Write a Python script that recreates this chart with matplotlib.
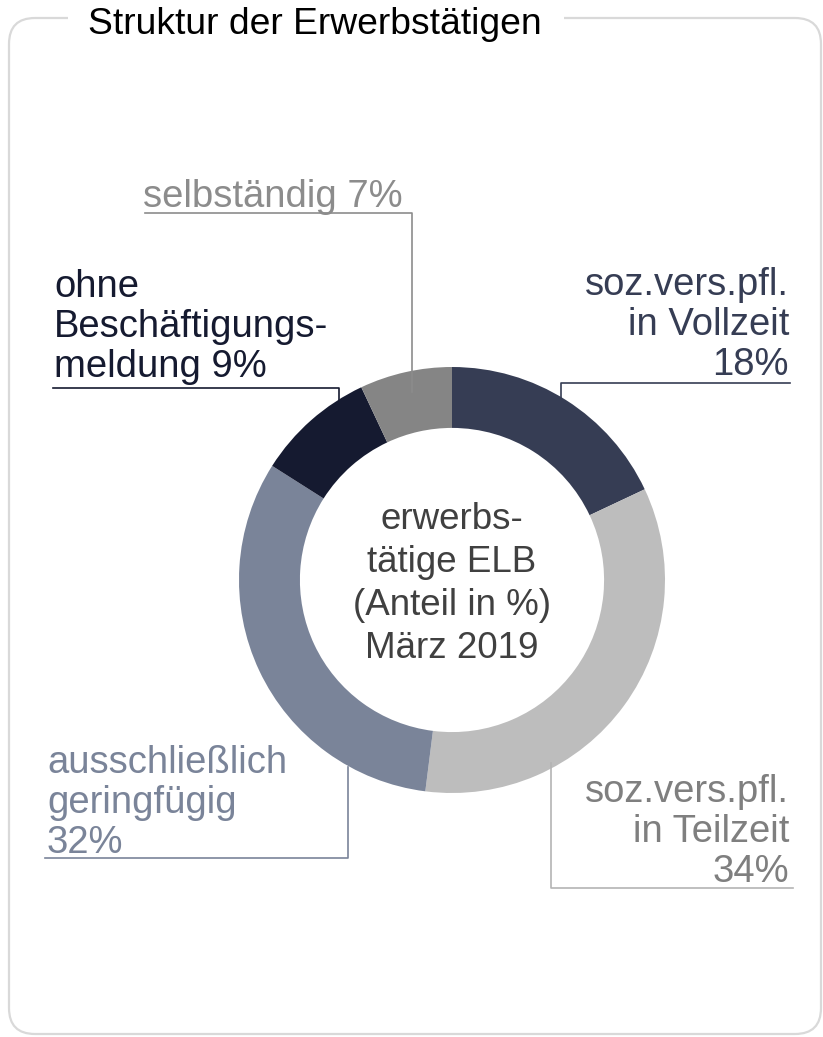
import matplotlib
matplotlib.use("Agg")
import matplotlib.pyplot as plt
from matplotlib.patches import FancyBboxPatch, Rectangle

plt.rcParams['font.family'] = ['Liberation Sans', 'DejaVu Sans']

# data
categories = ["Vollzeit", "Teilzeit", "geringfuegig", "ohne Meldung", "selbstaendig"]
shares = [18, 34, 32, 9, 7]
label_texts = [
    "soz.vers.pfl.\nin Vollzeit\n{}%",
    "soz.vers.pfl.\nin Teilzeit\n{}%",
    "ausschließlich\ngeringfügig\n{}%",
    "ohne\nBeschäftigungs-\nmeldung {}%",
    "selbständig {}%",
]
wedge_colors = ["#363d54", "#bdbdbd", "#7a8499", "#151a30", "#858585"]
text_colors = ["#363d54", "#7f7f7f", "#7a8499", "#151a30", "#8c8c8c"]
line_colors = ["#363d54", "#b4b4b4", "#7a8499", "#151a30", "#8c8c8c"]
title = "Struktur der Erwerbstätigen"
center_text = "erwerbs-\ntätige ELB\n(Anteil in %)\nMärz 2019"

W, H = 823, 1037
fig = plt.figure(figsize=(W / 100, H / 100), dpi=100)

# overlay axes in pixel coordinates
ax = fig.add_axes([0, 0, 1, 1])
ax.set_xlim(0, W)
ax.set_ylim(H, 0)
ax.axis("off")

# rounded frame with gap for the title
frame = FancyBboxPatch((9, 18), 812, 1016, boxstyle="round,pad=0,rounding_size=26",
                       fill=False, edgecolor="#d9d9d9", linewidth=1.6, zorder=1)
ax.add_patch(frame)
ax.add_patch(Rectangle((68, 0), 496, 40, facecolor="white", edgecolor="none", zorder=2))
ax.text(88, 34, title, fontsize=26.8, color="black", ha="left", va="baseline", zorder=3)

# donut
cx, cy, R = 452, 580, 213
ax_pie = fig.add_axes([(cx - R) / W, (H - cy - R) / H, 2 * R / W, 2 * R / H])
ax_pie.pie(shares, colors=wedge_colors, startangle=90, counterclock=False, radius=1,
           wedgeprops=dict(width=0.286, edgecolor="none"))
ax_pie.set_xlim(-1, 1)
ax_pie.set_ylim(-1, 1)
ax_pie.axis("off")

# labels with leader lines (y = baseline of the last line)
label_pos = [(789, 375, "right"), (789, 882, "right"), (47, 853, "left"),
             (54, 377, "left"), (143, 207, "left")]
leaders = [
    [(790, 383), (561, 383), (561, 468)],
    [(793, 888), (551, 888), (551, 763)],
    [(45, 858), (348, 858), (348, 767)],
    [(53, 388), (339, 388), (339, 438)],
    [(145, 213), (412, 213), (412, 392)],
]

ax_top = fig.add_axes([0, 0, 1, 1], sharex=ax, sharey=ax)
ax_top.axis("off")
ax_top.patch.set_alpha(0)
ax_top.text(452, 658, center_text, ha="center", va="baseline", fontsize=26.5,
            color="#404040", linespacing=1.3, multialignment="center")
for txt, val, (x, y, ha), pts, tc, lc in zip(label_texts, shares, label_pos, leaders,
                                             text_colors, line_colors):
    ax.text(x, y, txt.format(val), ha=ha, va="baseline", fontsize=27.5, color=tc,
            linespacing=1.14)
    xs, ys = zip(*pts)
    ax_top.plot(xs, ys, color=lc, linewidth=1.2)

fig.savefig("out.png", dpi=100, facecolor="white")
